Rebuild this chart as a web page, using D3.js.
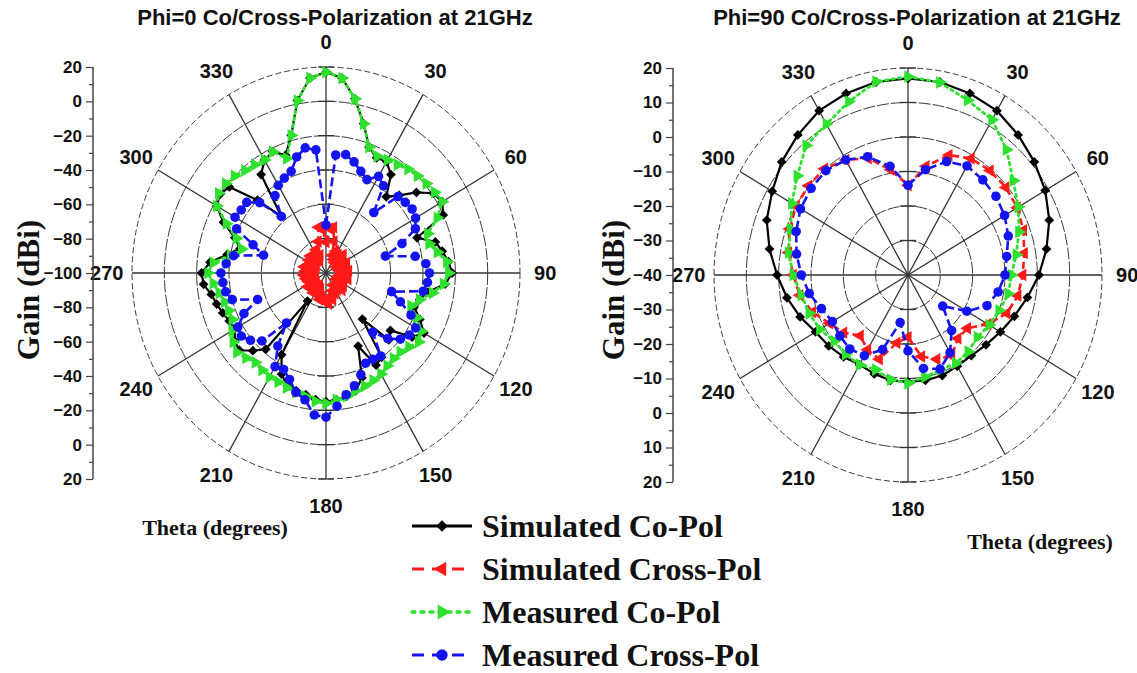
<!DOCTYPE html>
<html>
<head>
<meta charset="utf-8">
<script src="https://cdn.jsdelivr.net/npm/d3@7"></script>
<style>
  html, body { margin: 0; padding: 0; background: #fff; }
  svg { display: block; }
</style>
</head>
<body>
<svg id="chart" width="1137" height="673"></svg>
<script>
// ---- Sample angles (degrees) ----
const thetaPhi0 = d3.range(0, 360, 5);
const thetaPhi90 = d3.range(0, 360, 10);

// ---- Phi = 0 cut (gain in dBi) ----
const phi0SimCo = [17, 14, 3, -10, -22, -26, -25, -30, -42, -36, -27, -19, -17, -20, -40, -30, -27, -24, -22, -26,
  -36, -40, -42, -36, -30, -35, -48, -45, -65, -40, -38, -53, -35, -29, -27, -26, -25, -26, -28, -29,
  -30, -35, -45, -80, -42, -36, -30, -31, -35, -34, -32, -30, -28, -24, -23, -28, -38, -45, -40, -30,
  -22, -20, -22, -40, -57, -30, -24, -22, -27, -17, 2, 14];
const phi0SimCross = [-82, -74, -73, -81, -89, -86, -91, -87, -92, -85, -90, -88, -93, -86, -91, -88, -92, -86, -90, -87,
  -92, -86, -91, -88, -93, -87, -91, -86, -90, -88, -92, -87, -89, -84, -86, -82, -83, -84, -86, -84,
  -90, -87, -92, -86, -91, -87, -92, -86, -90, -88, -93, -87, -91, -86, -90, -87, -92, -86, -91, -88,
  -93, -87, -90, -86, -91, -88, -92, -85, -89, -81, -73, -74];
const phi0MeasCo = [17, 14, 3, -10, -22, -25, -24, -23, -21, -20, -19, -18, -17, -24, -33, -34, -30, -25, -24, -27,
  -33, -40, -44, -38, -32, -30, -33, -35, -35, -34, -32, -31, -30, -29, -27, -26, -24, -25, -27, -28,
  -29, -30, -30, -31, -32, -30, -28, -30, -33, -36, -36, -35, -33, -30, -27, -30, -40, -46, -41, -32,
  -22, -19, -19, -20, -22, -23, -24, -22, -29, -17, 2, 14];
const phi0MeasCross = [-72, -31, -30, -33, -37, -40, -35, -38, -54, -37, -36, -35, -36, -39, -50, -62, -44, -38, -36, -37,
  -39, -58, -51, -42, -36, -37, -40, -46, -55, -41, -42, -42, -37, -32, -28, -22, -16, -17, -25, -28,
  -34, -38, -37, -48, -62, -44, -39, -36, -37, -44, -55, -40, -37, -36, -35, -38, -42, -60, -52, -39,
  -35, -36, -36, -42, -57, -45, -41, -39, -37, -30, -26, -28];

// ---- Phi = 90 cut (gain in dBi) ----
const phi90SimCo = [17, 16.8, 16, 15, 13, 11, 9, 6.5, 3.5, 0.5, -2.5, -5, -7, -8.5, -9.5, -9.5, -9, -9,
  -9, -9, -9.5, -10, -9, -8, -7, -4.5, -2, 0.5, 3.5, 6.5, 8.5, 11, 13, 15, 16, 16.8];
const phi90SimCross = [-14, -8, -3, -1, -0.5, -0.5, -1, -2, -3.5, -4.5, -5.5, -7.5, -11.5, -16, -16, -13, -14, -16,
  -22, -20, -14, -15, -17, -14, -12, -8.5, -6, -4.5, -2.5, -1, 0, 0.2, 0.2, -1.5, -4, -9];
const phi90MeasCo = [17.5, 16.7, 13.9, 12, 7.4, 2.5, -0.6, -3.5, -6, -8, -8.5, -10, -11, -12, -11, -10.5, -10.7, -10,
  -8.6, -9.2, -10.8, -10, -10, -10.2, -8.5, -7.5, -6.5, -4.5, -2.5, -1.3, 1.5, 4.7, 9, 10.5, 13.5, 16.9];
const phi90MeasCross = [-14, -9, -5, -3.5, -4, -4.5, -5.5, -7, -9, -10, -11.7, -14, -19, -26, -19, -14, -11, -12.5,
  -18, -26, -17, -13, -12, -12.5, -13, -11.5, -9, -7, -5, -3.2, -1.6, -0.9, -0.5, -1.5, -3.5, -8];

// ---- Labels ----
const angleTicks = [0, 30, 60, 90, 120, 150, 180, 210, 240, 270, 300, 330];
const phi0RadialTicks = [20, 0, -20, -40, -60, -80, -100];
const phi90RadialTicks = [20, 10, 0, -10, -20, -30, -40];
const seriesNames = ["Simulated Co-Pol", "Simulated Cross-Pol", "Measured Co-Pol", "Measured Cross-Pol"];
const titles = ["Phi=0 Co/Cross-Polarization at 21GHz", "Phi=90 Co/Cross-Polarization at 21GHz"];

// ---- Series styles ----
const styles = [
  { color: "#000000", dash: null, width: 2.2, symbol: "diamond", size: 48 },
  { color: "#ff1a1a", dash: "7,4", width: 2.6, symbol: "triLeft", size: 66 },
  { color: "#2fe02f", dash: "2.5,4", width: 2.8, symbol: "triRight", size: 70 },
  { color: "#1414f0", dash: "9,4", width: 2.6, symbol: "circle", size: 72 }
];

const svg = d3.select("#chart");
const sans = "'Liberation Sans', Arial, sans-serif";
const serif = "'Liberation Serif', 'Times New Roman', serif";

function symbolPath(kind, size) {
  if (kind === "diamond") return { d: d3.symbol(d3.symbolSquare, size)(), rot: 45 };
  if (kind === "triLeft") return { d: d3.symbol(d3.symbolTriangle, size)(), rot: -90 };
  if (kind === "triRight") return { d: d3.symbol(d3.symbolTriangle, size)(), rot: 90 };
  return { d: d3.symbol(d3.symbolCircle, size)(), rot: 0 };
}

function drawPolar(cfg) {
  const g = svg.append("g");
  const { cx, cy, rx, ry } = cfg;
  const rScale = d3.scaleLinear().domain([cfg.rMin, cfg.rMax]).range([0, 1]).clamp(true);
  const pos = (deg, v) => {
    const a = deg * Math.PI / 180, f = rScale(v);
    return [cx + Math.sin(a) * rx * f, cy - Math.cos(a) * ry * f];
  };

  // rings
  const ringVals = d3.range(cfg.rMin + cfg.step, cfg.rMax + 0.001, cfg.step);
  g.selectAll("ellipse.ring").data(ringVals).join("ellipse")
    .attr("cx", cx).attr("cy", cy)
    .attr("rx", v => rx * rScale(v)).attr("ry", v => ry * rScale(v))
    .attr("fill", "none").attr("stroke", "#3a3a3a").attr("stroke-width", 1)
    .attr("stroke-dasharray", v => v === cfg.rMax ? "6,3" : "12,2");

  // spokes
  g.selectAll("line.spoke").data(angleTicks).join("line")
    .attr("x1", cx).attr("y1", cy)
    .attr("x2", d => pos(d, cfg.rMax)[0]).attr("y2", d => pos(d, cfg.rMax)[1])
    .attr("stroke", "#333").attr("stroke-width", 1.3);

  // small ticks on the vertical spoke at each ring
  [0, 180].forEach(a => {
    g.selectAll(null).data(ringVals).join("line")
      .attr("x1", v => pos(a, v)[0] - 8).attr("x2", v => pos(a, v)[0] + 8)
      .attr("y1", v => pos(a, v)[1]).attr("y2", v => pos(a, v)[1])
      .attr("stroke", "#333").attr("stroke-width", 1.3);
  });

  // angle labels
  g.selectAll("text.ang").data(angleTicks).join("text")
    .attr("x", d => cx + Math.sin(d * Math.PI / 180) * rx * 1.13)
    .attr("y", d => cy - Math.cos(d * Math.PI / 180) * ry * 1.13 + (d === 0 ? 2 : 0))
    .attr("text-anchor", "middle").attr("dominant-baseline", "central")
    .attr("font-family", sans).attr("font-weight", "bold").attr("font-size", 20)
    .attr("fill", "#111").text(d => d);

  // series
  cfg.series.forEach((vals, i) => {
    const st = styles[i];
    const pts = vals.map((v, k) => pos(cfg.theta[k], v));
    const line = d3.line().curve(d3.curveLinearClosed);
    g.append("path").attr("d", line(pts))
      .attr("fill", "none").attr("stroke", st.color).attr("stroke-width", st.width)
      .attr("stroke-dasharray", st.dash).attr("stroke-linejoin", "round")
      .attr("stroke-linecap", i === 2 ? "round" : "butt");
    const sym = symbolPath(st.symbol, st.size);
    g.selectAll(null).data(pts).join("path")
      .attr("d", sym.d)
      .attr("transform", p => `translate(${p[0]},${p[1]}) rotate(${sym.rot})`)
      .attr("fill", st.color);
  });

  // vertical gain axis: upper half and lower half
  const ax = svg.append("g").attr("transform", `translate(${cfg.axisX},0)`);
  const yTop = d3.scaleLinear().domain([cfg.rMin, cfg.rMax]).range([cy, cy - ry]);
  const yBot = d3.scaleLinear().domain([cfg.rMin, cfg.rMax]).range([cy, cy + ry]);
  const minor = d3.range(cfg.rMin + cfg.step / 2, cfg.rMax, cfg.step);
  [[yTop, cfg.ticks], [yBot, cfg.ticks.filter(t => t !== cfg.rMin)]].forEach(([sc, tv]) => {
    const a = ax.append("g").call(d3.axisLeft(sc).tickValues(tv).tickSize(7).tickPadding(4).tickFormat(d3.format("d")));
    a.attr("font-family", sans).attr("font-size", 17).attr("font-weight", "bold");
    a.select(".domain").remove();
    a.selectAll("text").attr("fill", "#111");
    a.selectAll("line").attr("stroke", "#444").attr("stroke-width", 1.2);
    const m = ax.append("g").call(d3.axisLeft(sc).tickValues(minor).tickSize(4).tickFormat(""));
    m.select(".domain").remove();
    m.selectAll("line").attr("stroke", "#444").attr("stroke-width", 1.2);
  });
  ax.append("line").attr("x1", 0).attr("x2", 0).attr("y1", cy - ry).attr("y2", cy + ry)
    .attr("stroke", "#444").attr("stroke-width", 1.5);

  // axis title
  svg.append("text")
    .attr("transform", `translate(${cfg.gainX},${cfg.gainY}) rotate(-90)`)
    .attr("text-anchor", "middle").attr("dominant-baseline", "central")
    .attr("font-family", serif).attr("font-weight", "bold").attr("font-size", 31)
    .attr("fill", "#111").text("Gain (dBi)");

  // chart title
  svg.append("text").attr("x", cfg.titleX).attr("y", 25)
    .attr("text-anchor", "middle").attr("font-family", sans).attr("font-weight", "bold")
    .attr("font-size", 22).attr("fill", "#111").text(cfg.title);

  // theta label
  svg.append("text").attr("x", cfg.thetaX).attr("y", cfg.thetaY)
    .attr("text-anchor", "middle").attr("font-family", serif).attr("font-weight", "bold")
    .attr("font-size", 22).attr("fill", "#111").text("Theta (degrees)");
}

drawPolar({
  cx: 326, cy: 273, rx: 194, ry: 206, rMin: -100, rMax: 20, step: 20,
  theta: thetaPhi0, series: [phi0SimCo, phi0SimCross, phi0MeasCo, phi0MeasCross],
  ticks: phi0RadialTicks, axisX: 93, gainX: 28, gainY: 290,
  title: titles[0], titleX: 335, thetaX: 215, thetaY: 535
});

drawPolar({
  cx: 908, cy: 275, rx: 194, ry: 207, rMin: -40, rMax: 20, step: 10,
  theta: thetaPhi90, series: [phi90SimCo, phi90SimCross, phi90MeasCo, phi90MeasCross],
  ticks: phi90RadialTicks, axisX: 673, gainX: 613, gainY: 290,
  title: titles[1], titleX: 917, thetaX: 1040, thetaY: 549
});

// ---- Legend ----
const legend = svg.append("g");
const rowY = [526, 569, 612, 655];
seriesNames.forEach((name, i) => {
  const st = styles[i], y = rowY[i];
  legend.append("line").attr("x1", 412).attr("x2", 472).attr("y1", y).attr("y2", y)
    .attr("stroke", st.color).attr("stroke-width", st.width + 0.6)
    .attr("stroke-dasharray", i === 0 ? null : (i === 2 ? "3,6" : "12,8"))
    .attr("stroke-linecap", i === 2 ? "round" : "butt");
  const sym = symbolPath(st.symbol, st.size * 1.4);
  legend.append("path").attr("d", sym.d)
    .attr("transform", `translate(442,${y}) rotate(${sym.rot})`).attr("fill", st.color);
  legend.append("text").attr("x", 482).attr("y", y + 11)
    .attr("font-family", serif).attr("font-weight", "bold").attr("font-size", 32)
    .attr("fill", "#111").text(name);
});
</script>
</body>
</html>
